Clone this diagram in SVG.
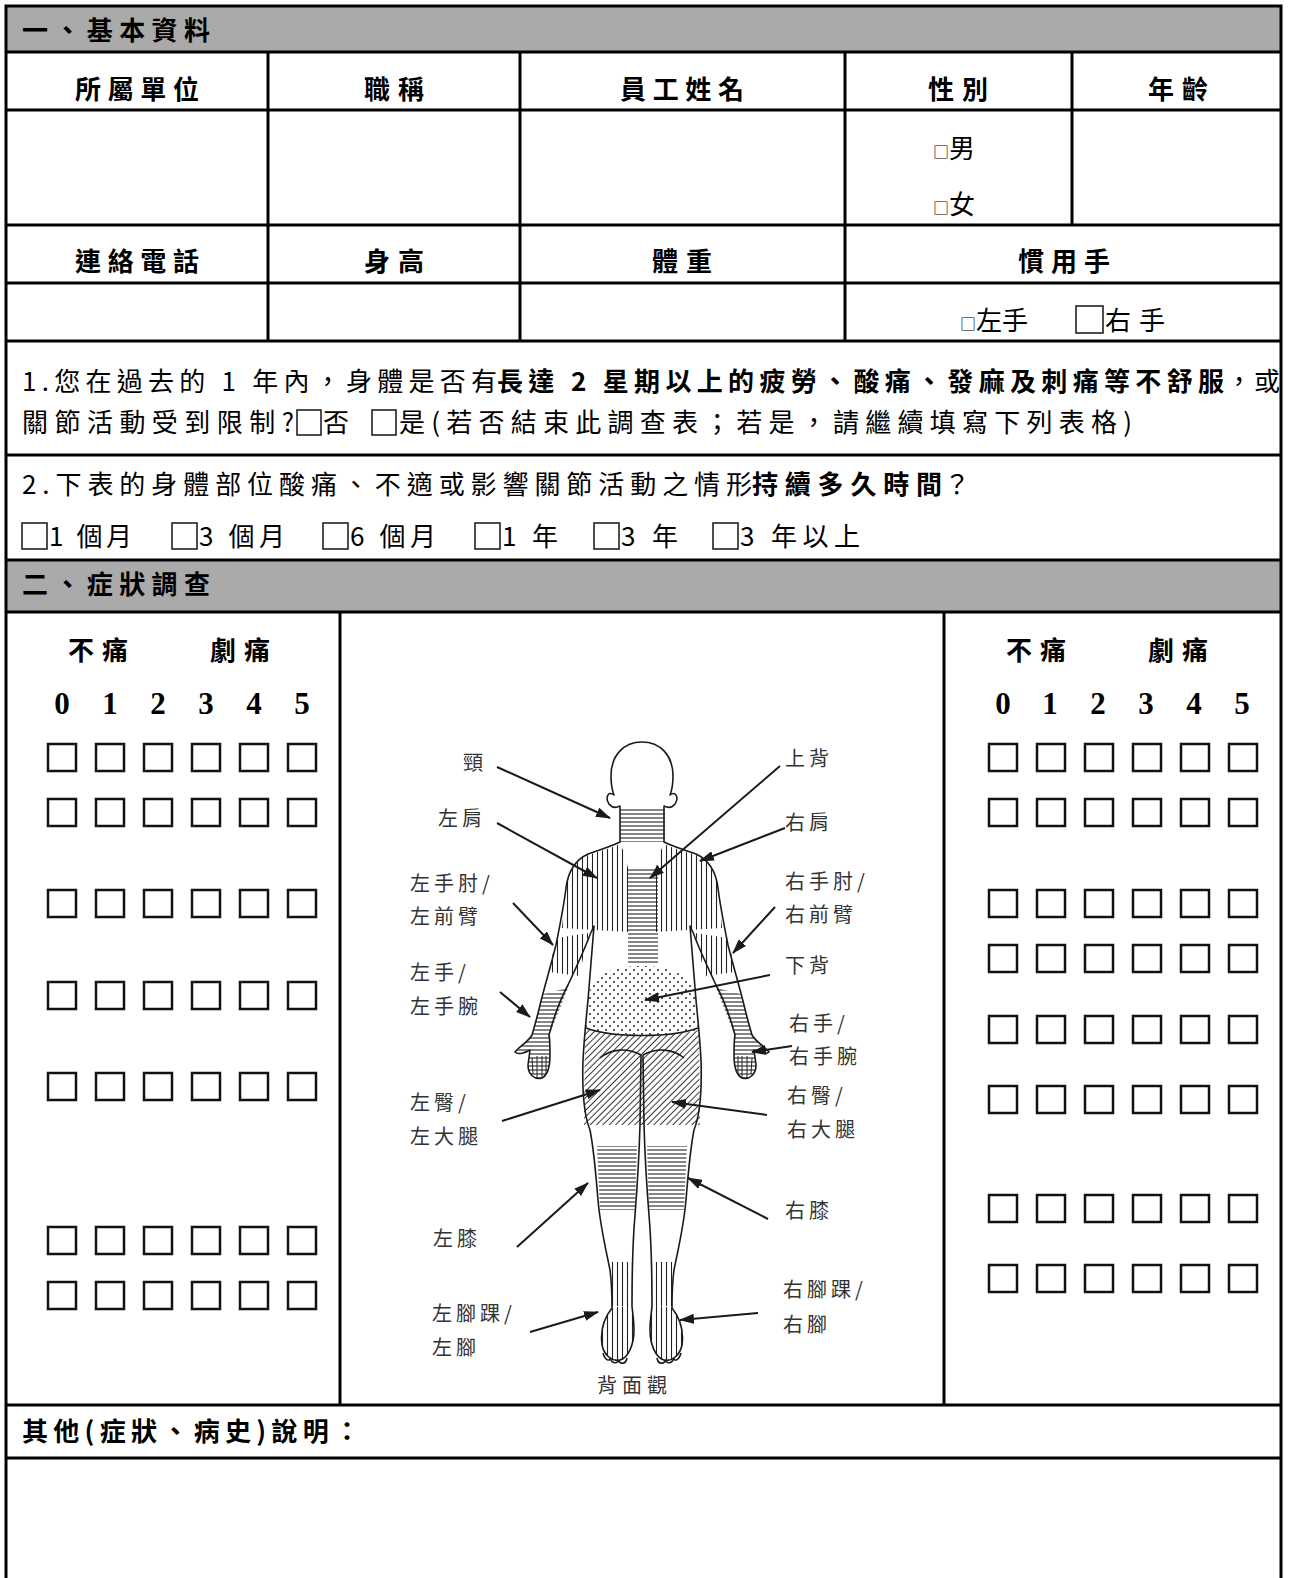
<svg xmlns="http://www.w3.org/2000/svg" width="1293" height="1578" viewBox="0 0 1293 1578">
<style>
.ln{stroke:#000;stroke-width:3;fill:none}
.gray{fill:#aaaaaa}
.hd{font-family:"Noto Sans CJK TC","Noto Sans CJK SC",sans-serif;font-weight:700;font-size:26px;fill:#000}
.tx{font-family:"Noto Sans CJK TC","Noto Sans CJK SC",sans-serif;font-weight:400;font-size:26px;fill:#000}
.b{font-weight:700}
.num{font-family:"Liberation Serif",serif;font-weight:700;font-size:31px;fill:#000}
.cb{fill:none;stroke:#111;stroke-width:2.5}
.qb{fill:none;stroke:#222;stroke-width:1.6}
.lab{font-family:"Noto Sans CJK TC","Noto Sans CJK SC",sans-serif;font-weight:400;font-size:20px;fill:#333}
.arr{stroke:#1a1a1a;stroke-width:2;fill:none;marker-end:url(#ah)}
.ol{stroke:#1a1a1a;stroke-width:1.6;fill:none;stroke-linejoin:round}
</style>
<defs>
<marker id="ah" markerUnits="userSpaceOnUse" markerWidth="15" markerHeight="10" refX="14" refY="5" orient="auto">
<path d="M0,0 L15,5 L0,10 z" fill="#1a1a1a"/>
</marker>
<pattern id="hH" width="6" height="4" patternUnits="userSpaceOnUse"><line x1="0" y1="2" x2="6" y2="2" stroke="#222" stroke-width="1.1"/></pattern>
<pattern id="hV" width="5" height="6" patternUnits="userSpaceOnUse"><line x1="2.5" y1="0" x2="2.5" y2="6" stroke="#222" stroke-width="1.1"/></pattern>
<pattern id="hD" width="4.5" height="4.5" patternUnits="userSpaceOnUse" patternTransform="rotate(45)"><line x1="2.2" y1="0" x2="2.2" y2="4.5" stroke="#333" stroke-width="1"/></pattern>
<pattern id="dt" width="8" height="8" patternUnits="userSpaceOnUse"><circle cx="2" cy="2" r="1.1" fill="#333"/><circle cx="6" cy="6" r="1.1" fill="#333"/></pattern>
<g id="rowL"><rect class="cb" x="48" y="0" width="28" height="27"/><rect class="cb" x="96" y="0" width="28" height="27"/><rect class="cb" x="144" y="0" width="28" height="27"/><rect class="cb" x="192" y="0" width="28" height="27"/><rect class="cb" x="240" y="0" width="28" height="27"/><rect class="cb" x="288" y="0" width="28" height="27"/></g>
<g id="halfBody">
<path d="M620,844 C612,848 600,851 588,855 C575,861 568,873 566,888 L562,928 L628,932 L628,868 L624,852 Z" fill="url(#hV)"/>
<path d="M556,938 L589,933 L579,976 L549,972 Z" fill="url(#hV)"/>
<path d="M543,994 L568,988 L549,1036 L532,1035 Z" fill="url(#hH)"/>
<path d="M532,1035 C528,1042 520,1046 515,1052 C518,1055 525,1053 530,1050 L528,1065 C528,1075 535,1080 542,1078 C548,1075 550,1065 550,1055 C550,1045 550,1040 549,1035 Z" fill="url(#hH)"/>
<path d="M532,1058 L533,1074 M537,1056 L537,1078 M542,1056 L542,1078 M546,1056 L546,1074" stroke="#222" stroke-width="1"/>
<path d="M597,1146 L637,1146 L635,1210 L600,1210 Z" fill="url(#hH)"/>
<path d="M609,1262 L633,1262 L632,1306 L612,1306 Z" fill="url(#hV)"/>
<path d="M612,1308 C604,1318 600,1330 602,1345 C604,1355 612,1362 620,1360 C628,1358 634,1345 634,1330 C634,1318 632,1310 632,1305 Z" fill="url(#hV)"/>
<path class="ol" d="M642,742 C624,742 611,755 611,776 C611,784 612,790 614,795 C608,790 605,798 609,804 C612,808 616,808 620,806 L620,842 C612,846 600,850 588,854 C575,860 568,872 566,888 C564,905 560,925 556,945 C551,965 545,985 540,1005 C537,1018 534,1028 532,1035 C528,1042 520,1046 515,1052 C518,1055 525,1053 530,1050 L528,1065 C528,1075 535,1080 542,1078 C548,1075 550,1065 550,1055 C550,1045 550,1040 549,1035 C553,1020 560,1000 568,985 C575,970 582,955 588,940 C590,934 592,930 594,926 C592,950 590,975 588,1000 C586,1020 584,1040 583,1060 C582,1090 584,1115 590,1130 C594,1150 596,1175 598,1200 C600,1225 606,1250 610,1270 C612,1285 612,1298 612,1308 C604,1318 600,1330 602,1345 C604,1355 612,1362 620,1360 C628,1358 634,1345 634,1330 C634,1318 632,1310 632,1305 C632,1280 632,1250 635,1215 C637,1190 639,1160 640,1125 L641,1055"/>
<path class="ol" d="M603,1353 C605,1360 609,1362 611,1358 M610,1358 C612,1364 617,1364 619,1360 M618,1360 C621,1365 626,1364 627,1358" />
<path class="ol" d="M600,1058 C612,1048 628,1048 641,1055" stroke-width="1.2"/>
</g>
</defs>

<!-- frame and grid -->
<g id="frame">
<rect class="gray" x="6" y="6" width="1275" height="46"/>
<rect class="gray" x="6" y="560" width="1275" height="52"/>
<path class="ln" d="M6,1578 L6,6 L1281,6 L1281,1578"/>
<path class="ln" d="M6,52 H1281 M6,110 H1281 M6,225 H1281 M6,283 H1281 M6,341 H1281 M6,455 H1281 M6,560 H1281 M6,612 H1281 M6,1405 H1281 M6,1458 H1281"/>
<path class="ln" d="M268,52 V341 M520,52 V341 M845,52 V341 M1072,52 V225 M340,612 V1405 M944,612 V1405"/>
</g>

<g id="section1">
<text class="hd" x="22" y="40" textLength="188">一、基本資料</text>
<text class="hd" x="137" y="99" text-anchor="middle" textLength="124">所屬單位</text>
<text class="hd" x="394" y="99" text-anchor="middle" textLength="60">職稱</text>
<text class="hd" x="682" y="99" text-anchor="middle" textLength="124">員工姓名</text>
<text class="hd" x="958" y="99" text-anchor="middle" textLength="60">性別</text>
<text class="hd" x="1178" y="99" text-anchor="middle" textLength="60">年齡</text>
<text class="tx" x="933" y="158"><tspan font-size="16">□</tspan>男</text>
<text class="tx" x="933" y="214"><tspan font-size="16">□</tspan>女</text>
<text class="hd" x="137" y="271" text-anchor="middle" textLength="124">連絡電話</text>
<text class="hd" x="394" y="271" text-anchor="middle" textLength="60">身高</text>
<text class="hd" x="682" y="271" text-anchor="middle" textLength="60">體重</text>
<text class="hd" x="1064" y="271" text-anchor="middle" textLength="92">慣用手</text>
<text class="tx" x="960" y="330"><tspan font-size="16">□</tspan>左手</text>
<rect class="qb" x="1076" y="306" width="27" height="27"/>
<text class="tx" x="1105" y="330" textLength="60">右手</text>
</g>

<g id="question1">
<text class="tx" x="22" y="391" textLength="475">1.您在過去的 1 年內，身體是否有</text>
<text class="tx b" x="497" y="391" textLength="727">長達 2 星期以上的疲勞、酸痛、發麻及刺痛等不舒服</text>
<text class="tx" x="1226" y="391" textLength="54">，或</text>
<text class="tx" x="22" y="432" textLength="272">關節活動受到限制?</text>
<rect class="qb" x="297" y="410" width="24" height="25"/>
<text class="tx" x="323" y="432">否</text>
<rect class="qb" x="372" y="410" width="24" height="25"/>
<text class="tx" x="399" y="432" textLength="733">是(若否結束此調查表；若是，請繼續填寫下列表格)</text>
</g>

<g id="question2">
<text class="tx" x="22" y="494" textLength="730">2.下表的身體部位酸痛、不適或影響關節活動之情形</text>
<text class="tx b" x="752" y="494" textLength="190">持續多久時間</text>
<text class="tx" x="944" y="494">？</text>
<rect class="qb" x="22" y="523" width="25" height="26"/>
<text class="tx" x="49" y="546" textLength="83">1 個月</text>
<rect class="qb" x="172" y="523" width="25" height="26"/>
<text class="tx" x="199" y="546" textLength="86">3 個月</text>
<rect class="qb" x="323" y="523" width="25" height="26"/>
<text class="tx" x="350" y="546" textLength="86">6 個月</text>
<rect class="qb" x="475" y="523" width="25" height="26"/>
<text class="tx" x="502" y="546" textLength="56">1 年</text>
<rect class="qb" x="594" y="523" width="25" height="26"/>
<text class="tx" x="621" y="546" textLength="57">3 年</text>
<rect class="qb" x="713" y="523" width="25" height="26"/>
<text class="tx" x="740" y="546" textLength="120">3 年以上</text>
</g>

<g id="section2">
<text class="hd" x="22" y="594" textLength="188">二、症狀調查</text>
</g>

<g id="scaleLeft">
<text class="hd" x="98" y="660" text-anchor="middle" textLength="60">不痛</text>
<text class="hd" x="240" y="660" text-anchor="middle" textLength="60">劇痛</text>
<text class="num" y="714" text-anchor="middle"><tspan x="62">0</tspan><tspan x="110">1</tspan><tspan x="158">2</tspan><tspan x="206">3</tspan><tspan x="254">4</tspan><tspan x="302">5</tspan></text>
<use href="#rowL" transform="translate(0,744)"/>
<use href="#rowL" transform="translate(0,799)"/>
<use href="#rowL" transform="translate(0,890)"/>
<use href="#rowL" transform="translate(0,982)"/>
<use href="#rowL" transform="translate(0,1073)"/>
<use href="#rowL" transform="translate(0,1227)"/>
<use href="#rowL" transform="translate(0,1282)"/>
</g>

<g id="scaleRight">
<text class="hd" x="1036" y="660" text-anchor="middle" textLength="60">不痛</text>
<text class="hd" x="1178" y="660" text-anchor="middle" textLength="60">劇痛</text>
<text class="num" y="714" text-anchor="middle"><tspan x="1003">0</tspan><tspan x="1050">1</tspan><tspan x="1098">2</tspan><tspan x="1146">3</tspan><tspan x="1194">4</tspan><tspan x="1242">5</tspan></text>
<use href="#rowL" transform="translate(941,744)"/>
<use href="#rowL" transform="translate(941,799)"/>
<use href="#rowL" transform="translate(941,890)"/>
<use href="#rowL" transform="translate(941,945)"/>
<use href="#rowL" transform="translate(941,1016)"/>
<use href="#rowL" transform="translate(941,1086)"/>
<use href="#rowL" transform="translate(941,1195)"/>
<use href="#rowL" transform="translate(941,1265)"/>
</g>

<g id="body">
<rect x="620" y="808" width="45" height="34" fill="url(#hH)"/>
<rect x="628" y="868" width="30" height="97" fill="url(#hH)"/>
<path d="M588,1000 C590,975 610,966 642,966 C672,966 694,975 696,1000 L698,1030 C672,1037 612,1037 586,1028 Z" fill="url(#dt)"/>
<path d="M585,1028 C612,1037 672,1037 699,1030 L700,1125 L584,1125 Z" fill="url(#hD)"/>
<use href="#halfBody"/>
<use href="#halfBody" transform="translate(1284,0) scale(-1,1)"/>
<path class="ol" d="M586,1028 C612,1038 672,1038 698,1028" stroke-width="1.3"/>
</g>

<g id="labels">
<text class="lab" x="463" y="770">頸</text>
<text class="lab" x="438" y="826" letter-spacing="4">左肩</text>
<text class="lab" x="410" y="891" letter-spacing="4">左手肘/</text>
<text class="lab" x="410" y="924" letter-spacing="4">左前臂</text>
<text class="lab" x="410" y="980" letter-spacing="4">左手/</text>
<text class="lab" x="410" y="1014" letter-spacing="4">左手腕</text>
<text class="lab" x="410" y="1110" letter-spacing="4">左臀/</text>
<text class="lab" x="410" y="1144" letter-spacing="4">左大腿</text>
<text class="lab" x="433" y="1246" letter-spacing="4">左膝</text>
<text class="lab" x="432" y="1321" letter-spacing="4">左腳踝/</text>
<text class="lab" x="432" y="1355" letter-spacing="4">左腳</text>
<text class="lab" x="597" y="1393" letter-spacing="5">背面觀</text>
<text class="lab" x="785" y="766" letter-spacing="4">上背</text>
<text class="lab" x="785" y="830" letter-spacing="4">右肩</text>
<text class="lab" x="785" y="889" letter-spacing="4">右手肘/</text>
<text class="lab" x="785" y="922" letter-spacing="4">右前臂</text>
<text class="lab" x="785" y="973" letter-spacing="4">下背</text>
<text class="lab" x="789" y="1031" letter-spacing="4">右手/</text>
<text class="lab" x="789" y="1064" letter-spacing="4">右手腕</text>
<text class="lab" x="787" y="1103" letter-spacing="4">右臀/</text>
<text class="lab" x="787" y="1137" letter-spacing="4">右大腿</text>
<text class="lab" x="785" y="1218" letter-spacing="4">右膝</text>
<text class="lab" x="783" y="1297" letter-spacing="4">右腳踝/</text>
<text class="lab" x="783" y="1332" letter-spacing="4">右腳</text>
</g>

<g id="connectors">
<line class="arr" x1="497" y1="767" x2="610" y2="818"/>
<line class="arr" x1="497" y1="823" x2="597" y2="878"/>
<line class="arr" x1="513" y1="903" x2="553" y2="945"/>
<line class="arr" x1="500" y1="992" x2="530" y2="1017"/>
<line class="arr" x1="780" y1="766" x2="650" y2="878"/>
<line class="arr" x1="785" y1="828" x2="700" y2="861"/>
<line class="arr" x1="775" y1="907" x2="733" y2="953"/>
<line class="arr" x1="770" y1="975" x2="645" y2="1000"/>
<line class="arr" x1="792" y1="1046" x2="752" y2="1052"/>
<line class="arr" x1="502" y1="1121" x2="600" y2="1090"/>
<line class="arr" x1="767" y1="1115" x2="672" y2="1102"/>
<line class="arr" x1="517" y1="1247" x2="588" y2="1183"/>
<line class="arr" x1="768" y1="1219" x2="688" y2="1178"/>
<line class="arr" x1="530" y1="1332" x2="598" y2="1312"/>
<line class="arr" x1="758" y1="1313" x2="680" y2="1320"/>
</g>

<g id="section3">
<text class="hd" x="22" y="1441" textLength="338">其他(症狀、病史)說明：</text>
</g>
</svg>
